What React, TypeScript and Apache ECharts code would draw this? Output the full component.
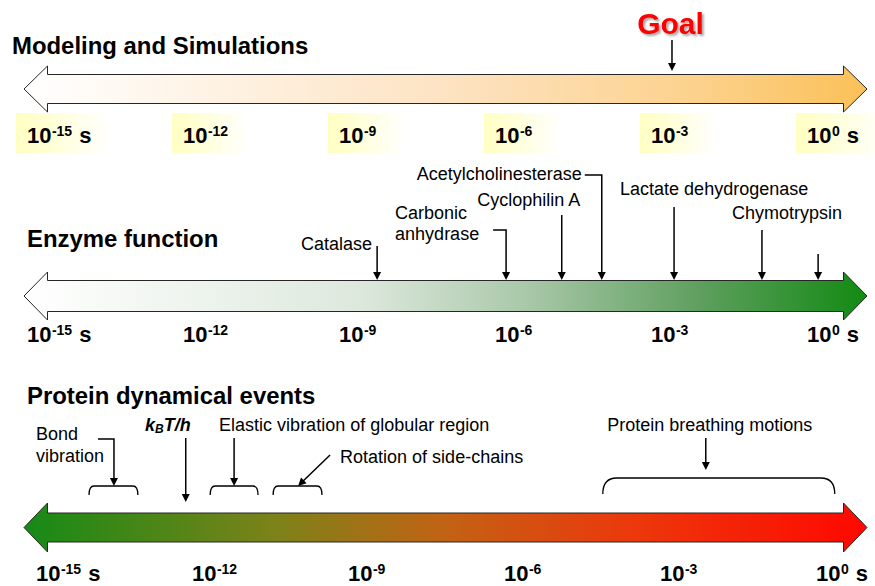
import React, { useEffect, useRef } from 'react';
import * as echarts from 'echarts';

const FONT = '"Liberation Sans", Arial, Helvetica, sans-serif';

// Time axis in log10(seconds)
const AXIS_MIN = -15.46;
const AXIS_MAX = 0.75;

const TICK_EXPONENTS = [-15, -12, -9, -6, -3, 0];
const TICK_UNITS = ['s', '', '', '', '', 's'];

const ROW_TITLES = ['Modeling and Simulations', 'Enzyme function', 'Protein dynamical events'];

const GOAL_LABEL = 'Goal';
const GOAL_EXPONENT = -3.0;

const ENZYME_NAMES = ['Catalase', 'Carbonic\nanhydrase', 'Cyclophilin A', 'Acetylcholinesterase', 'Lactate dehydrogenase', 'Chymotrypsin', ''];
const ENZYME_EXPONENTS = [-8.67, -6.19, -5.12, -4.35, -2.96, -1.27, -0.19];

const EVENT_NAMES = ['Bond\nvibration', 'kBT/h', 'Elastic vibration of globular region', 'Rotation of side-chains', 'Protein breathing motions'];
const EVENT_POINTS = [-13.73, -12.35, -11.42, -10.19, -2.35];
const EVENT_SPAN_START = [-14.21, NaN, -11.88, -10.67, -4.33];
const EVENT_SPAN_END = [-13.27, NaN, -10.96, -9.73, 0.13];

// ---------- layout & styles ----------
const ROW_LAYOUT = [
  { titleX: 12, titleY: 46, arrowY: 89, halfShaft: 14.5, halfHead: 23, labelY: 135, labelShift: -21, boxes: true },
  { titleX: 27, titleY: 239.5, arrowY: 296, halfShaft: 15.5, halfHead: 24, labelY: 334, labelShift: -21, boxes: false },
  { titleX: 27, titleY: 396.5, arrowY: 527.5, halfShaft: 14.5, halfHead: 24.5, labelY: 573, labelShift: -12, boxes: false },
];

const ARROW_GRADIENTS = [
  [
    { offset: 0, color: '#ffffff' },
    { offset: 0.5, color: '#fde3c2' },
    { offset: 0.8, color: '#fcd18c' },
    { offset: 1, color: '#fbc158' },
  ],
  [
    { offset: 0, color: '#ffffff' },
    { offset: 0.4, color: '#dde8dd' },
    { offset: 0.6, color: '#a8c7a8' },
    { offset: 0.8, color: '#5f9f5f' },
    { offset: 1, color: '#128a12' },
  ],
  [
    { offset: 0, color: '#168a16' },
    { offset: 0.3, color: '#7d8219' },
    { offset: 0.5, color: '#c26214' },
    { offset: 0.72, color: '#ec380c' },
    { offset: 1, color: '#ff0800' },
  ],
];

const ENZYME_LAYOUT: any[] = [
  { textDx: -5, textY: 244, align: 'right', lineTop: 246 },
  { textDx: -111, textY: 223.5, align: 'left', lineTop: 230, elbowDx: -13, lineGap: 21 },
  { textDx: -33, textY: 199.5, align: 'center', lineTop: 215 },
  { textDx: -20, textY: 173.5, align: 'right', lineTop: 175, elbowDx: -17 },
  { textDx: -54, textY: 188.5, align: 'left', lineTop: 207 },
  { textDx: -30, textY: 212.5, align: 'left', lineTop: 230 },
  { textDx: 0, textY: 0, align: 'left', lineTop: 254 },
];
const ENZYME_TIP_Y = 280;

const EVENT_LAYOUT: any[] = [
  { textDx: -78, textY: 445, align: 'left', lineGap: 22, elbowDx: -16, lineTop: 439, tipY: 486, bracketTop: 486, bracketBottom: 495, radius: 5 },
  { textDx: 5, textY: 425, align: 'right', lineTop: 438, tipY: 502 },
  { textDx: -15, textY: 425, align: 'left', lineTop: 438, tipY: 486, bracketTop: 486, bracketBottom: 495, radius: 5 },
  { textDx: 42, textY: 457, align: 'left', diagonalDx: 32, lineTop: 455, tipY: 486, bracketTop: 486, bracketBottom: 495, radius: 5 },
  { textDx: 4, textY: 424.5, align: 'center', lineTop: 438, tipY: 470, bracketTop: 478, bracketBottom: 494, radius: 14 },
];

const LABEL_FONT = `18px ${FONT}`;
const TICK_FONT = `bold 22px ${FONT}`;
const TICK_SUP_FONT = `bold 14px ${FONT}`;

let measureCtx: CanvasRenderingContext2D | null = null;
function textWidth(t: string, font: string) {
  if (!measureCtx) measureCtx = document.createElement('canvas').getContext('2d');
  if (!measureCtx) return t.length * 10;
  measureCtx.font = font;
  return measureCtx.measureText(t).width;
}

function txt(text: string, x: number, y: number, font: string, align = 'left', fill = '#000', extra: any = {}) {
  return {
    type: 'text',
    x,
    y,
    style: { text, font, fill, textAlign: align, textVerticalAlign: 'middle', ...extra },
  };
}

function multiline(text: string, x: number, y: number, font: string, align: string, gap: number) {
  const lines = text.split('\n');
  return lines.map((ln, k) => txt(ln, x, y + (k - (lines.length - 1) / 2) * gap, font, align));
}

function arrowTo(x1: number, y1: number, x2: number, y2: number, pre: number[][] = []) {
  const dx = x2 - x1;
  const dy = y2 - y1;
  const len = Math.hypot(dx, dy) || 1;
  const ux = dx / len;
  const uy = dy / len;
  const hl = 8;
  const hw = 4;
  const bx = x2 - ux * hl;
  const by = y2 - uy * hl;
  const pts = [...pre, [x1, y1], [bx + ux * 2, by + uy * 2]];
  return [
    { type: 'polyline', shape: { points: pts }, style: { stroke: '#000', lineWidth: 1.5, fill: null } },
    {
      type: 'polygon',
      shape: { points: [[x2, y2], [bx - uy * hw, by + ux * hw], [bx + uy * hw, by - ux * hw]] },
      style: { fill: '#000' },
    },
  ];
}

function bracket(a: number, b: number, top: number, bottom: number, r: number) {
  return {
    type: 'path',
    shape: {
      pathData: `M${a},${bottom} Q${a},${top} ${a + r},${top} L${b - r},${top} Q${b},${top} ${b},${bottom}`,
    },
    style: { fill: null, stroke: '#000', lineWidth: 1.3 },
  };
}

function buildOption() {
  const xOf = (api: any, e: number) => api.coord([e, 0])[0];

  const tickData: number[][] = [];
  ROW_LAYOUT.forEach((_, r) => TICK_EXPONENTS.forEach((e, t) => tickData.push([e, r, t])));

  return {
    animation: false,
    backgroundColor: '#ffffff',
    grid: { left: 24, right: 8, top: 0, bottom: 0, containLabel: false },
    xAxis: { type: 'value', min: AXIS_MIN, max: AXIS_MAX, show: false },
    yAxis: { type: 'value', min: 0, max: 1, show: false },
    graphic: ROW_TITLES.map((t, r) => ({
      type: 'text',
      x: ROW_LAYOUT[r].titleX,
      y: ROW_LAYOUT[r].titleY,
      scaleX: 1.04,
      silent: true,
      style: { text: t, font: `bold 23px ${FONT}`, fill: '#000', textAlign: 'left', textVerticalAlign: 'middle' },
    })),
    series: [
      // the three big double-headed arrows
      {
        type: 'custom',
        silent: true,
        clip: false,
        data: ROW_TITLES.map(() => [AXIS_MIN, AXIS_MAX]),
        renderItem: (params: any, api: any) => {
          const r = params.dataIndex;
          const L = ROW_LAYOUT[r];
          const x0 = xOf(api, api.value(0));
          const x1 = xOf(api, api.value(1));
          const y = L.arrowY;
          const hs = L.halfShaft;
          const hh = L.halfHead;
          const hl = 23.5;
          return {
            type: 'polygon',
            shape: {
              points: [
                [x0, y], [x0 + hl, y - hh], [x0 + hl, y - hs], [x1 - hl, y - hs], [x1 - hl, y - hh],
                [x1, y], [x1 - hl, y + hh], [x1 - hl, y + hs], [x0 + hl, y + hs], [x0 + hl, y + hh],
              ],
            },
            style: {
              fill: new echarts.graphic.LinearGradient(0, 0, 1, 0, ARROW_GRADIENTS[r]),
              stroke: '#262626',
              lineWidth: 1,
            },
          };
        },
      },
      // tick labels for each row
      {
        type: 'custom',
        silent: true,
        clip: false,
        data: tickData,
        renderItem: (params: any, api: any) => {
          const e = api.value(0);
          const r = api.value(1);
          const t = api.value(2);
          const L = ROW_LAYOUT[r];
          const x = xOf(api, e) + L.labelShift;
          const unit = TICK_UNITS[t];
          const sup = String(TICK_EXPONENTS[t]);
          const w10 = textWidth('10', TICK_FONT);
          const wSup = textWidth(sup, TICK_SUP_FONT);
          const children: any[] = [];
          if (L.boxes) {
            children.push({
              type: 'rect',
              shape: { x: x - 11, y: 113, width: unit ? 94 : 76, height: 40 },
              style: {
                fill: new echarts.graphic.LinearGradient(0, 0, 1, 0, [
                  { offset: 0, color: '#ffffc4' },
                  { offset: 0.35, color: '#ffffd6' },
                  { offset: 1, color: '#ffffff' },
                ]),
              },
            });
          }
          children.push(txt('10', x, L.labelY, TICK_FONT));
          children.push(txt(sup, x + w10 + 0.5, L.labelY - 4.5, TICK_SUP_FONT));
          if (unit) {
            children.push(txt(unit, x + w10 + 0.5 + wSup + textWidth(' ', TICK_FONT) + 1, L.labelY, TICK_FONT));
          }
          return { type: 'group', children };
        },
      },
      // goal marker on the simulation arrow
      {
        type: 'custom',
        silent: true,
        clip: false,
        data: [[GOAL_EXPONENT]],
        renderItem: (params: any, api: any) => {
          const x = xOf(api, api.value(0));
          return {
            type: 'group',
            children: [
              txt(GOAL_LABEL, x - 1.5, 23.5, `bold 30px ${FONT}`, 'center', '#ff0000', {
                textShadowColor: 'rgba(0,0,0,0.35)',
                textShadowOffsetX: 2,
                textShadowOffsetY: 2,
                textShadowBlur: 2,
              }),
              ...arrowTo(x, 40, x, 71),
            ],
          };
        },
      },
      // enzyme turnover times
      {
        type: 'custom',
        silent: true,
        clip: false,
        data: ENZYME_EXPONENTS.map((e) => [e]),
        renderItem: (params: any, api: any) => {
          const i = params.dataIndex;
          const L = ENZYME_LAYOUT[i];
          const x = xOf(api, api.value(0));
          const children: any[] = [];
          const name = ENZYME_NAMES[i];
          if (name) {
            children.push(...multiline(name, x + L.textDx, L.textY, LABEL_FONT, L.align, L.lineGap || 20));
          }
          const pre = L.elbowDx != null ? [[x + L.elbowDx, L.lineTop]] : [];
          children.push(...arrowTo(x, L.lineTop, x, ENZYME_TIP_Y, pre));
          return { type: 'group', children };
        },
      },
      // protein dynamical events
      {
        type: 'custom',
        silent: true,
        clip: false,
        data: EVENT_POINTS.map((e) => [e]),
        renderItem: (params: any, api: any) => {
          const i = params.dataIndex;
          const L = EVENT_LAYOUT[i];
          const x = xOf(api, api.value(0));
          const children: any[] = [];
          const name = EVENT_NAMES[i];
          if (name === 'kBT/h') {
            const fMain = `italic bold 18px ${FONT}`;
            const fSub = `italic bold 12px ${FONT}`;
            const wk = textWidth('k', fMain);
            const wB = textWidth('B', fSub);
            const wT = textWidth('T/h', fMain);
            const total = wk + wB + wT;
            const x0 = L.align === 'right' ? x + L.textDx - total : x + L.textDx;
            children.push(txt('k', x0, L.textY, fMain));
            children.push(txt('B', x0 + wk, L.textY + 4, fSub));
            children.push(txt('T/h', x0 + wk + wB, L.textY, fMain));
          } else {
            children.push(...multiline(name, x + L.textDx, L.textY, LABEL_FONT, L.align, L.lineGap || 20));
          }
          if (L.diagonalDx != null) {
            children.push(...arrowTo(x + L.diagonalDx, L.lineTop, x, L.tipY));
          } else {
            const pre = L.elbowDx != null ? [[x + L.elbowDx, L.lineTop]] : [];
            children.push(...arrowTo(x, L.lineTop, x, L.tipY, pre));
          }
          const s = EVENT_SPAN_START[i];
          const en = EVENT_SPAN_END[i];
          if (!isNaN(s) && !isNaN(en)) {
            children.push(bracket(xOf(api, s), xOf(api, en), L.bracketTop, L.bracketBottom, L.radius));
          }
          return { type: 'group', children };
        },
      },
    ],
  };
}

export default function App() {
  const ref = useRef<HTMLDivElement>(null);
  useEffect(() => {
    if (!ref.current) return;
    const chart = echarts.init(ref.current, undefined, { renderer: 'svg' });
    chart.setOption(buildOption() as any);
    return () => chart.dispose();
  }, []);
  return (
    <div
      ref={ref}
      style={{ position: 'fixed', left: 0, top: 0, width: 875, height: 586, background: '#fff' }}
    />
  );
}
